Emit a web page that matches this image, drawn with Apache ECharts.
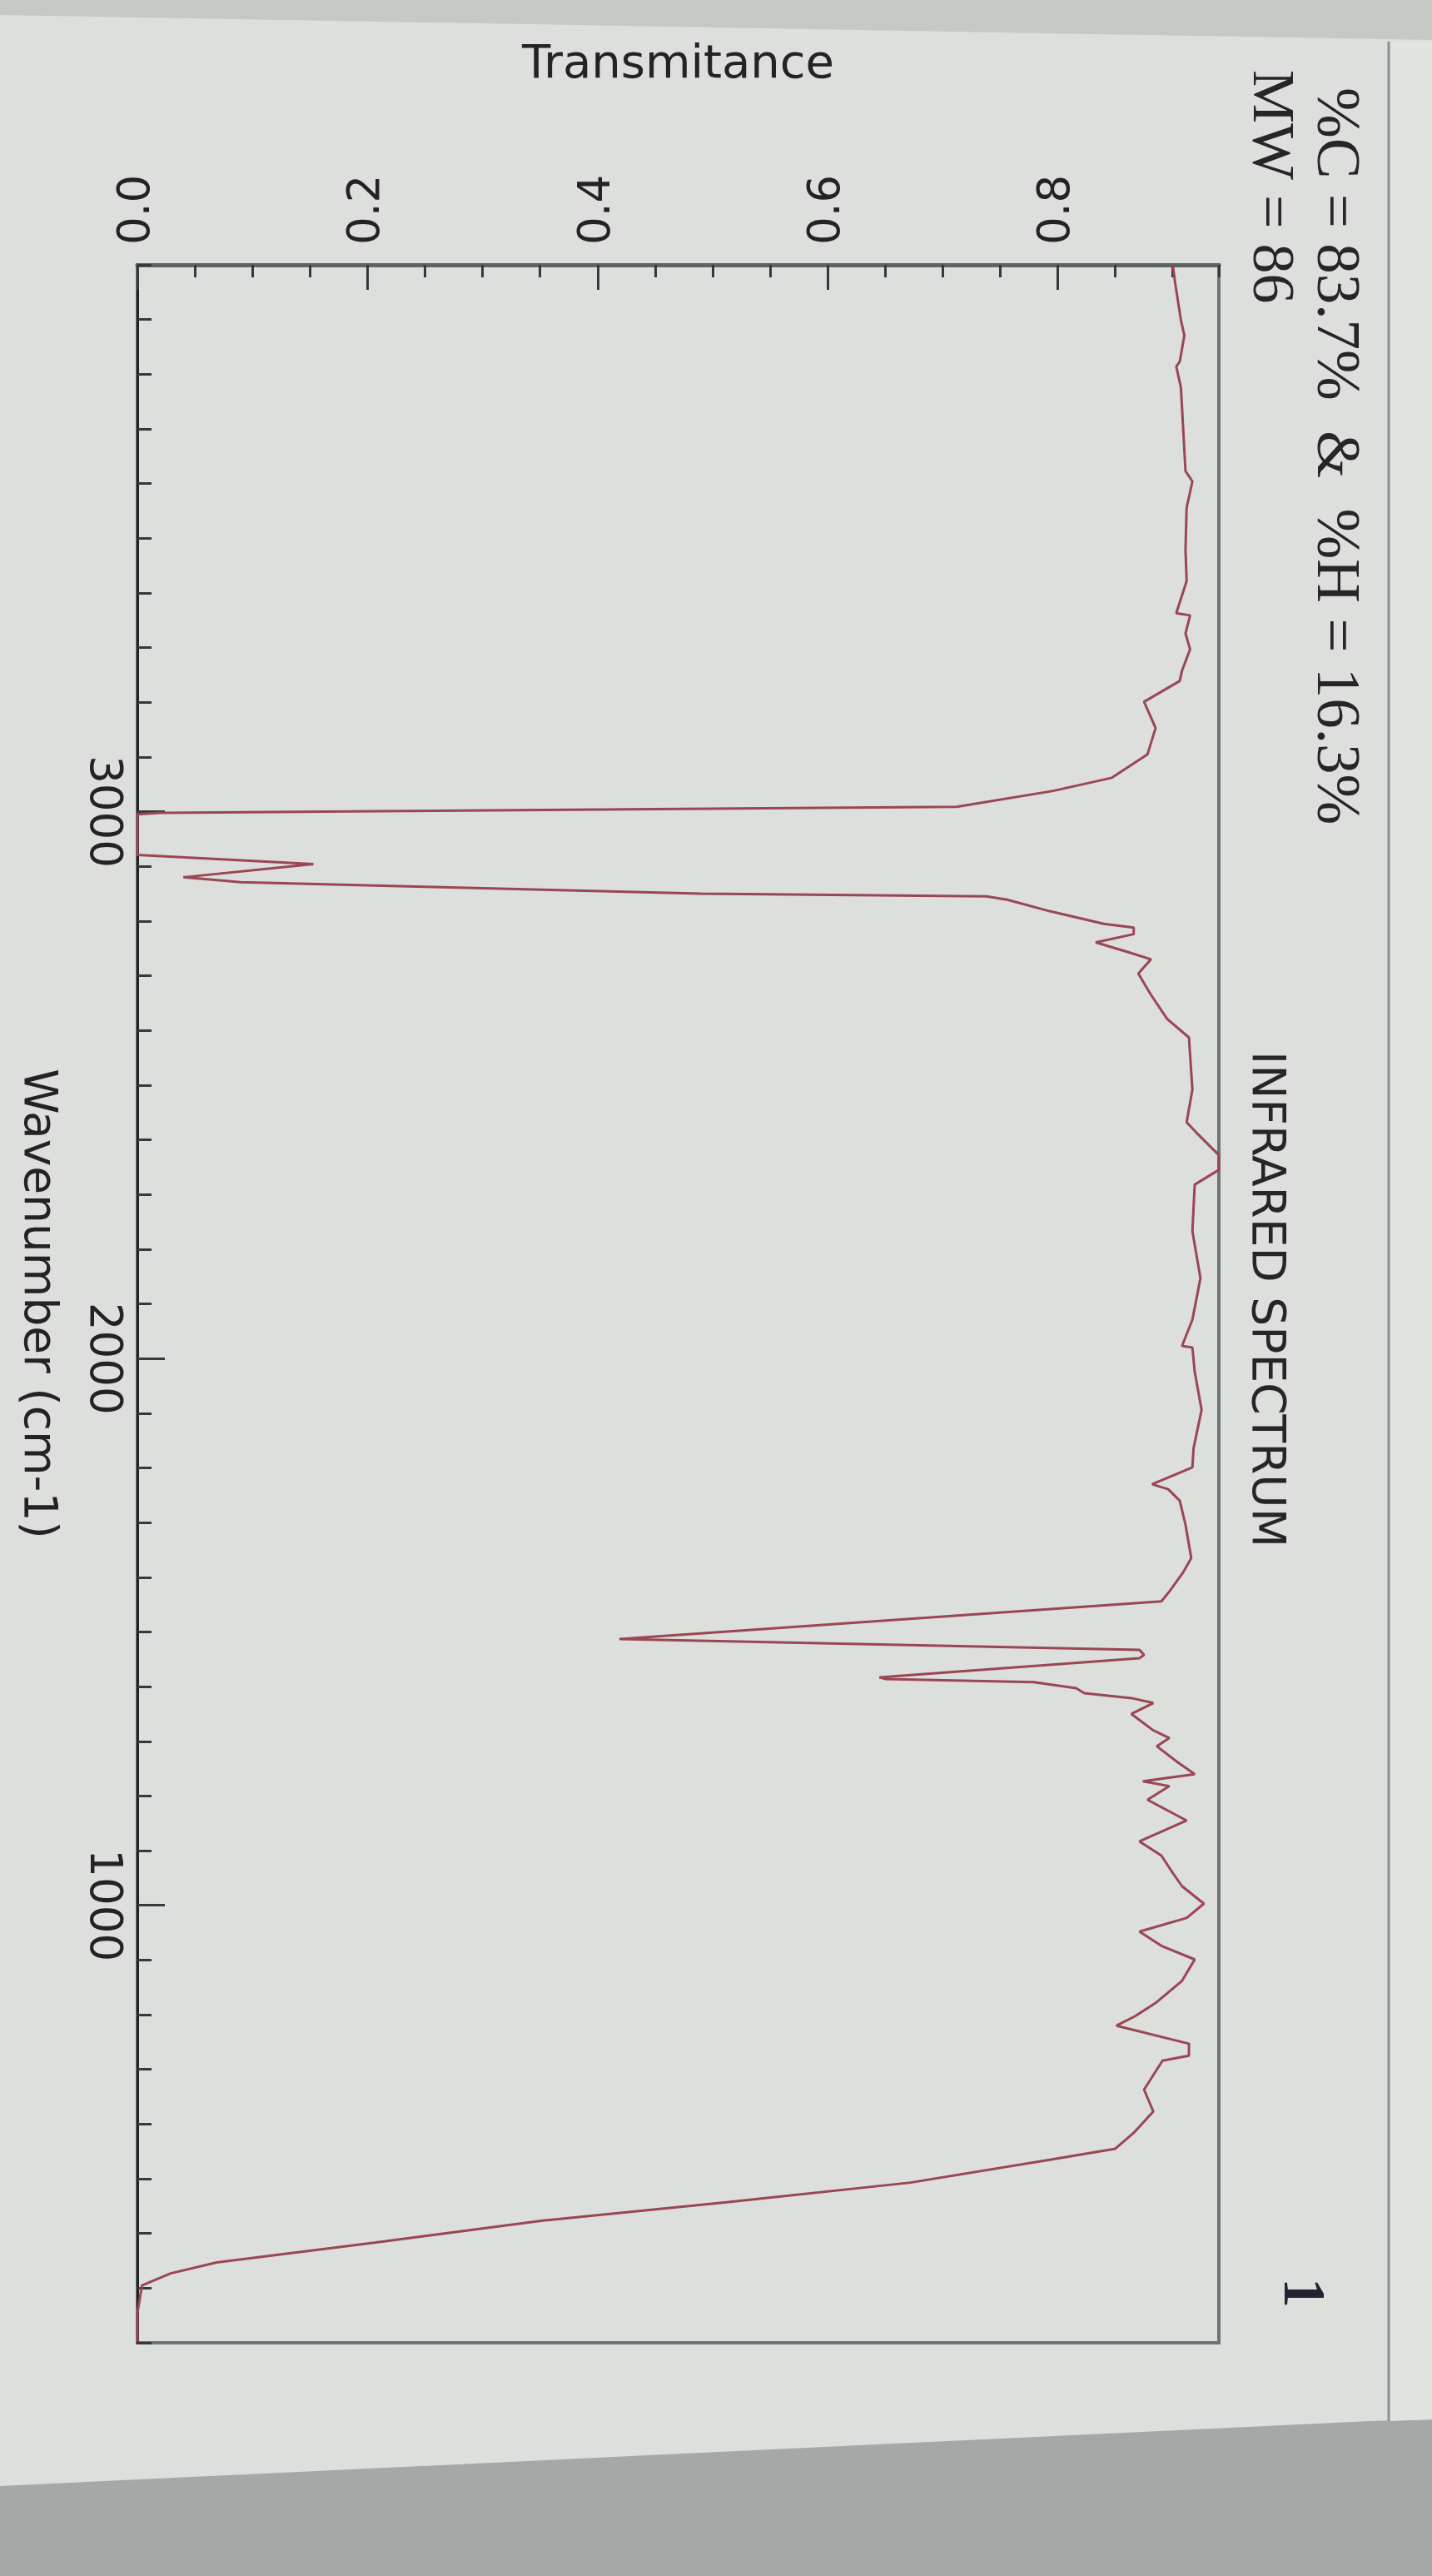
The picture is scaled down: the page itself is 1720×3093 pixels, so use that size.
<!DOCTYPE html>
<html>
<head>
<meta charset="utf-8">
<script src="https://cdn.jsdelivr.net/npm/echarts@6/dist/echarts.min.js"></script>
<style>
  html, body { margin: 0; padding: 0; background: #dcdfdb; }
  #wrap { position: relative; width: 1720px; height: 3093px; overflow: hidden; }
  .bg { position: absolute; left: 0; top: 0; width: 1720px; height: 3093px; }
  #topband { background: #c6c8c6; clip-path: polygon(0 0, 1720px 0, 1720px 48px, 0 18px); }
  #botband { background: #a6a8a7; clip-path: polygon(0 2985px, 1645px 2907px, 1720px 2905px, 1720px 3093px, 0 3093px); }
  #rightstrip { background: #e1e3e0; clip-path: polygon(1668px 50px, 1720px 50px, 1720px 2905px, 1668px 2907px); }
  #c { position: absolute; left: 0; top: 0; width: 1720px; height: 3093px; }
</style>
</head>
<body>
<div id="wrap">
  <div class="bg" id="topband"></div>
  <div class="bg" id="botband"></div>
  <div class="bg" id="rightstrip"></div>
  <div id="c"></div>
</div>
<script>
// ---- data ----
const wavenumbers = [4000, 3967, 3899, 3871, 3823, 3814, 3776, 3623, 3604, 3556, 3479, 3422, 3363, 3359, 3326, 3297, 3258, 3239, 3201, 3153, 3105, 3062, 3038, 3009, 2998, 2995, 2960, 2921, 2904, 2880, 2871, 2850, 2845, 2839, 2818, 2795, 2788, 2776, 2761, 2742, 2730, 2704, 2665, 2621, 2587, 2492, 2432, 2414, 2372, 2345, 2318, 2233, 2147, 2071, 2023, 2020, 1976, 1906, 1836, 1801, 1770, 1761, 1740, 1696, 1635, 1609, 1574, 1556, 1487, 1467, 1458, 1452, 1417, 1414, 1408, 1397, 1388, 1379, 1370, 1350, 1320, 1306, 1291, 1262, 1240, 1227, 1218, 1193, 1155, 1117, 1091, 1059, 1035, 1003, 977, 952, 926, 901, 862, 823, 797, 780, 747, 725, 716, 663, 623, 586, 555, 535, 493, 457, 423, 383, 347, 327, 305, 254, 202];
const transmittance = [0.900, 0.902, 0.907, 0.910, 0.906, 0.903, 0.907, 0.911, 0.917, 0.912, 0.911, 0.912, 0.903, 0.915, 0.911, 0.915, 0.908, 0.906, 0.875, 0.885, 0.878, 0.847, 0.796, 0.712, 0.020, 0.000, 0.000, 0.000, 0.153, 0.040, 0.090, 0.490, 0.738, 0.756, 0.793, 0.840, 0.866, 0.866, 0.833, 0.863, 0.881, 0.870, 0.881, 0.895, 0.914, 0.917, 0.912, 0.920, 0.940, 0.940, 0.919, 0.917, 0.924, 0.917, 0.908, 0.917, 0.919, 0.925, 0.918, 0.917, 0.882, 0.896, 0.906, 0.911, 0.916, 0.909, 0.897, 0.890, 0.419, 0.871, 0.875, 0.871, 0.645, 0.650, 0.779, 0.816, 0.823, 0.864, 0.883, 0.864, 0.883, 0.897, 0.886, 0.904, 0.919, 0.874, 0.897, 0.878, 0.912, 0.871, 0.890, 0.900, 0.908, 0.927, 0.912, 0.871, 0.890, 0.919, 0.908, 0.886, 0.867, 0.851, 0.914, 0.914, 0.891, 0.875, 0.883, 0.867, 0.850, 0.794, 0.672, 0.512, 0.351, 0.206, 0.069, 0.029, 0.004, 0.000, 0.000];
const transTickLabels = [0, 0.2, 0.4, 0.6, 0.8];
const waveTickLabels = [1000, 2000, 3000];
const transRange = [0, 0.94];
const waveRange = [200, 4000];

const chart = echarts.init(document.getElementById('c'), null, { renderer: 'canvas' });
const sans = 'DejaVu Sans';
const tickColor = '#35393b';

const option = {
  animation: false,
  backgroundColor: 'transparent',
  grid: {
    left: 165, right: 256, top: 318, bottom: 280,
    show: true, borderColor: '#6f7374', borderWidth: 4, backgroundColor: 'transparent'
  },
  xAxis: [
    {
      type: 'value', position: 'top', min: transRange[0], max: transRange[1],
      name: 'Transmitance', nameLocation: 'middle', nameGap: 212,
      nameTextStyle: { fontFamily: sans, fontSize: 56, color: '#232323' },
      axisLine: { show: true, onZero: false, lineStyle: { color: '#5f6364', width: 5 } },
      axisTick: { show: true, inside: true, length: 30, customValues: transTickLabels, lineStyle: { color: tickColor, width: 3 } },
      axisLabel: { show: true, customValues: transTickLabels, rotate: -90, margin: 24,
        fontFamily: sans, fontSize: 53, color: '#232323', formatter: v => v.toFixed(1) },
      splitLine: { show: false }
    },
    {
      type: 'value', position: 'top', min: transRange[0], max: transRange[1], interval: 0.05,
      axisLine: { show: false, onZero: false },
      axisTick: { show: true, inside: true, length: 15, lineStyle: { color: tickColor, width: 3 } },
      axisLabel: { show: false },
      splitLine: { show: false }
    }
  ],
  yAxis: [
    {
      type: 'value', position: 'left', min: waveRange[0], max: waveRange[1],
      name: 'Wavenumber (cm-1)', nameLocation: 'middle', nameGap: 93, nameRotate: -90,
      nameTextStyle: { fontFamily: sans, fontSize: 55, color: '#232323' },
      axisLine: { show: true, onZero: false, lineStyle: { color: '#1f2325', width: 3 } },
      axisTick: { show: true, inside: true, length: 33, customValues: waveTickLabels, lineStyle: { color: tickColor, width: 3 } },
      axisLabel: { show: true, customValues: waveTickLabels, rotate: -90, margin: 16,
        fontFamily: sans, fontSize: 53, color: '#232323', formatter: v => String(v) },
      splitLine: { show: false }
    },
    {
      type: 'value', position: 'left', min: waveRange[0], max: waveRange[1], interval: 100,
      axisLine: { show: false, onZero: false },
      axisTick: { show: true, inside: true, length: 17, lineStyle: { color: tickColor, width: 3 } },
      axisLabel: { show: false },
      splitLine: { show: false }
    }
  ],
  series: [
    {
      type: 'line', xAxisIndex: 0, yAxisIndex: 0,
      data: wavenumbers.map((w, i) => [transmittance[i], w]),
      showSymbol: false, symbol: 'none',
      lineStyle: { color: '#9a4653', width: 3 },
      z: 5
    }
  ],
  graphic: [
    { type: 'text', x: 1519, y: 1560, rotation: -Math.PI / 2,
      style: { text: 'INFRARED SPECTRUM', font: '55px "DejaVu Sans"', fill: '#262626', align: 'center', verticalAlign: 'middle' } },
    { type: 'text', x: 1525, y: 84, rotation: -Math.PI / 2,
      style: { text: 'MW = 86', font: '72px "Liberation Serif"', fill: '#262626', align: 'left', verticalAlign: 'middle' } },
    { type: 'text', x: 1602, y: 105, rotation: -Math.PI / 2,
      style: { text: '%C = 83.7%  &  %H = 16.3%', font: '73px "Liberation Serif"', fill: '#262626', align: 'left', verticalAlign: 'middle' } },
    { type: 'text', x: 1562, y: 2753, rotation: -Math.PI / 2,
      style: { text: '1', font: 'bold 72px "Liberation Serif"', fill: '#1e2530', align: 'center', verticalAlign: 'middle' } },
    { type: 'line', shape: { x1: 1668, y1: 50, x2: 1668, y2: 2907 }, style: { stroke: '#8b8f8e', lineWidth: 3 } }
  ]
};
chart.setOption(option);
</script>
</body>
</html>
